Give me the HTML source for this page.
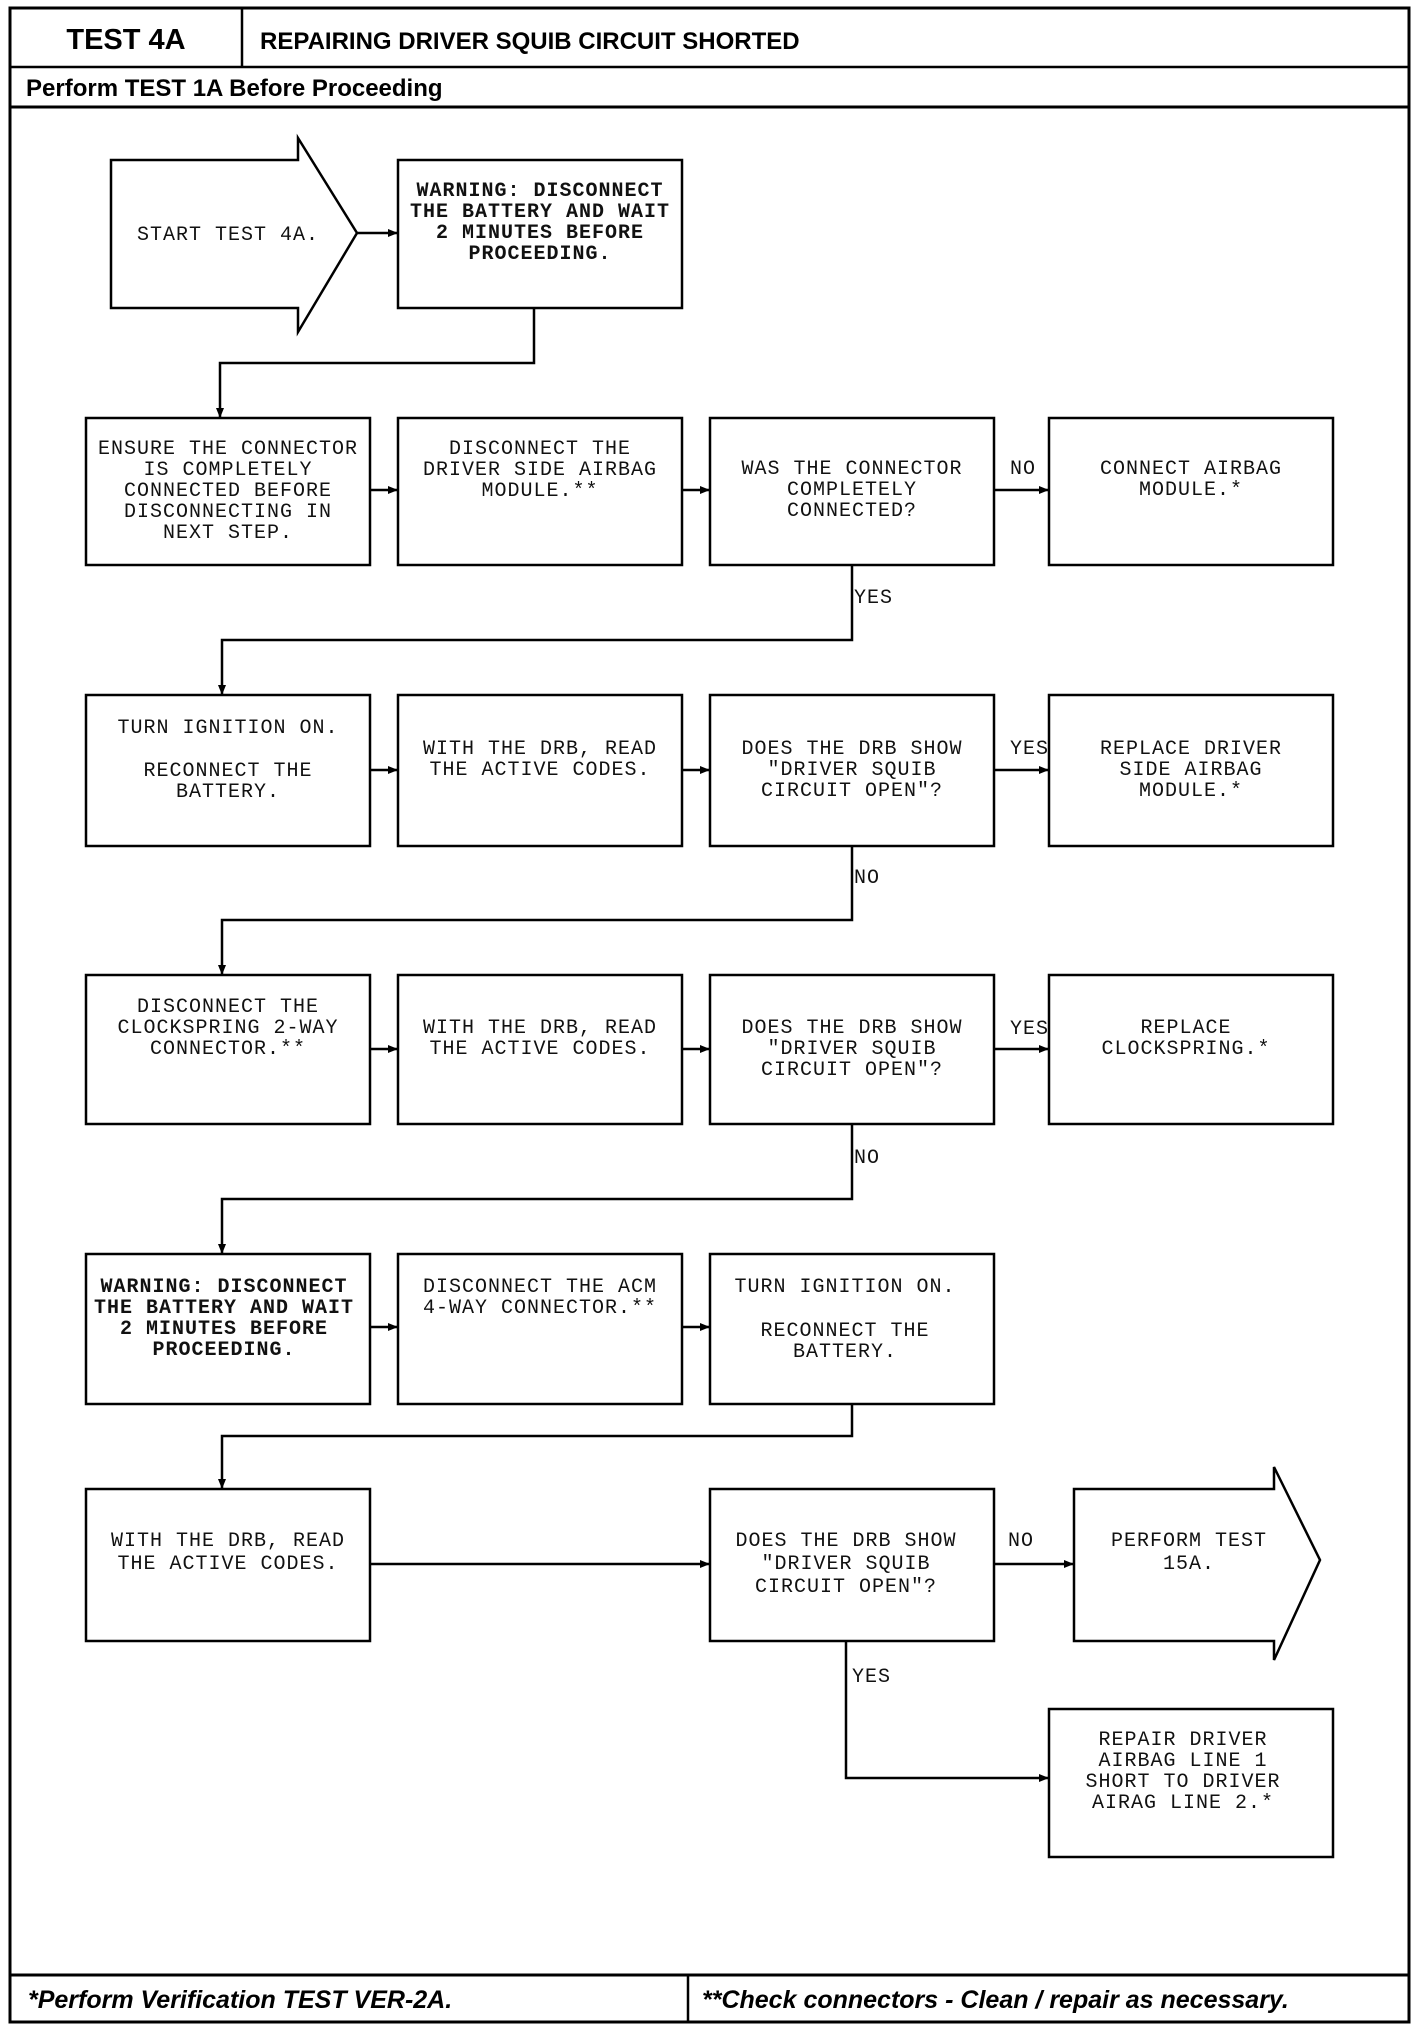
<!DOCTYPE html>
<html><head><meta charset="utf-8"><style>
html,body{margin:0;padding:0;background:#fff}
svg{display:block}
.m{font-family:"Liberation Mono",monospace;font-size:20px;letter-spacing:1px;fill:#111}
.b{font-weight:bold}
.s{font-family:"Liberation Sans",sans-serif;font-weight:bold;fill:#000}
</style></head><body>
<svg width="1424" height="2032" viewBox="0 0 1424 2032" xmlns="http://www.w3.org/2000/svg">
<defs><marker id="a" markerWidth="10" markerHeight="10" refX="9" refY="5" orient="auto" markerUnits="userSpaceOnUse"><path d="M0,1 L10,5 L0,9 z" fill="#000"/></marker></defs>
<g fill="none" stroke="#000">
<rect x="10" y="8" width="1399" height="2014" stroke-width="3"/>
<line x1="10" y1="67" x2="1409" y2="67" stroke-width="2.5"/>
<line x1="242" y1="8" x2="242" y2="67" stroke-width="2.5"/>
<line x1="10" y1="107" x2="1409" y2="107" stroke-width="3"/>
<line x1="10" y1="1975" x2="1409" y2="1975" stroke-width="3"/>
<line x1="688" y1="1975" x2="688" y2="2022" stroke-width="2.5"/>
</g>
<text x="126" y="49" class="s" font-size="29" text-anchor="middle">TEST 4A</text>
<text x="260" y="49" class="s" font-size="24">REPAIRING DRIVER SQUIB CIRCUIT SHORTED</text>
<text x="26" y="96" class="s" font-size="24">Perform TEST 1A Before Proceeding</text>
<text x="28" y="2008" class="s" font-size="25" font-style="italic">*Perform Verification TEST VER-2A.</text>
<text x="702" y="2008" class="s" font-size="25" font-style="italic">**Check connectors - Clean / repair as necessary.</text>

<g fill="#fff" stroke="#000" stroke-width="2.5">
<path d="M111,160 L298,160 L298,138 L357,233 L298,332 L298,308 L111,308 Z"/>
<rect x="398" y="160" width="284" height="148"/>
<rect x="86" y="418" width="284" height="147"/>
<rect x="398" y="418" width="284" height="147"/>
<rect x="710" y="418" width="284" height="147"/>
<rect x="1049" y="418" width="284" height="147"/>
<rect x="86" y="695" width="284" height="151"/>
<rect x="398" y="695" width="284" height="151"/>
<rect x="710" y="695" width="284" height="151"/>
<rect x="1049" y="695" width="284" height="151"/>
<rect x="86" y="975" width="284" height="149"/>
<rect x="398" y="975" width="284" height="149"/>
<rect x="710" y="975" width="284" height="149"/>
<rect x="1049" y="975" width="284" height="149"/>
<rect x="86" y="1254" width="284" height="150"/>
<rect x="398" y="1254" width="284" height="150"/>
<rect x="710" y="1254" width="284" height="150"/>
<rect x="86" y="1489" width="284" height="152"/>
<rect x="710" y="1489" width="284" height="152"/>
<path d="M1074,1489 L1274,1489 L1274,1467 L1320,1560 L1274,1660 L1274,1641 L1074,1641 Z"/>
<rect x="1049" y="1709" width="284" height="148"/>
</g>

<g fill="none" stroke="#000" stroke-width="2.5" marker-end="url(#a)">
<line x1="357" y1="233" x2="397" y2="233"/>
<polyline points="534,308 534,363 220,363 220,417"/>
<line x1="370" y1="490" x2="397" y2="490"/>
<line x1="682" y1="490" x2="709" y2="490"/>
<line x1="994" y1="490" x2="1048" y2="490"/>
<polyline points="852,565 852,640 222,640 222,694"/>
<line x1="370" y1="770" x2="397" y2="770"/>
<line x1="682" y1="770" x2="709" y2="770"/>
<line x1="994" y1="770" x2="1048" y2="770"/>
<polyline points="852,846 852,920 222,920 222,974"/>
<line x1="370" y1="1049" x2="397" y2="1049"/>
<line x1="682" y1="1049" x2="709" y2="1049"/>
<line x1="994" y1="1049" x2="1048" y2="1049"/>
<polyline points="852,1124 852,1199 222,1199 222,1253"/>
<line x1="370" y1="1327" x2="397" y2="1327"/>
<line x1="682" y1="1327" x2="709" y2="1327"/>
<polyline points="852,1404 852,1436 222,1436 222,1488"/>
<line x1="370" y1="1564" x2="709" y2="1564"/>
<line x1="994" y1="1564" x2="1073" y2="1564"/>
<polyline points="846,1641 846,1778 1048,1778"/>
</g>

<g class="m" text-anchor="middle">
<text x="228" y="240">START TEST 4A.</text>
<g class="b"><text x="540" y="196">WARNING: DISCONNECT</text><text x="540" y="217">THE BATTERY AND WAIT</text><text x="540" y="238">2 MINUTES BEFORE</text><text x="540" y="259">PROCEEDING.</text></g>

<text x="228" y="454">ENSURE THE CONNECTOR</text><text x="228" y="475">IS COMPLETELY</text><text x="228" y="496">CONNECTED BEFORE</text><text x="228" y="517">DISCONNECTING IN</text><text x="228" y="538">NEXT STEP.</text>
<text x="540" y="454">DISCONNECT THE</text><text x="540" y="475">DRIVER SIDE AIRBAG</text><text x="540" y="496">MODULE.**</text>
<text x="852" y="474">WAS THE CONNECTOR</text><text x="852" y="495">COMPLETELY</text><text x="852" y="516">CONNECTED?</text>
<text x="1191" y="474">CONNECT AIRBAG</text><text x="1191" y="495">MODULE.*</text>

<text x="228" y="733">TURN IGNITION ON.</text><text x="228" y="776">RECONNECT THE</text><text x="228" y="797">BATTERY.</text>
<text x="540" y="754">WITH THE DRB, READ</text><text x="540" y="775">THE ACTIVE CODES.</text>
<text x="852" y="754">DOES THE DRB SHOW</text><text x="852" y="775">"DRIVER SQUIB</text><text x="852" y="796">CIRCUIT OPEN"?</text>
<text x="1191" y="754">REPLACE DRIVER</text><text x="1191" y="775">SIDE AIRBAG</text><text x="1191" y="796">MODULE.*</text>

<text x="228" y="1012">DISCONNECT THE</text><text x="228" y="1033">CLOCKSPRING 2-WAY</text><text x="228" y="1054">CONNECTOR.**</text>
<text x="540" y="1033">WITH THE DRB, READ</text><text x="540" y="1054">THE ACTIVE CODES.</text>
<text x="852" y="1033">DOES THE DRB SHOW</text><text x="852" y="1054">"DRIVER SQUIB</text><text x="852" y="1075">CIRCUIT OPEN"?</text>
<text x="1186" y="1033">REPLACE</text><text x="1186" y="1054">CLOCKSPRING.*</text>

<g class="b"><text x="224" y="1292">WARNING: DISCONNECT</text><text x="224" y="1313">THE BATTERY AND WAIT</text><text x="224" y="1334">2 MINUTES BEFORE</text><text x="224" y="1355">PROCEEDING.</text></g>
<text x="540" y="1292">DISCONNECT THE ACM</text><text x="540" y="1313">4-WAY CONNECTOR.**</text>
<text x="845" y="1292">TURN IGNITION ON.</text><text x="845" y="1336">RECONNECT THE</text><text x="845" y="1357">BATTERY.</text>

<text x="228" y="1546">WITH THE DRB, READ</text><text x="228" y="1569">THE ACTIVE CODES.</text>
<text x="846" y="1546">DOES THE DRB SHOW</text><text x="846" y="1569">"DRIVER SQUIB</text><text x="846" y="1592">CIRCUIT OPEN"?</text>
<text x="1189" y="1546">PERFORM TEST</text><text x="1189" y="1569">15A.</text>

<text x="1183" y="1745">REPAIR DRIVER</text><text x="1183" y="1766">AIRBAG LINE 1</text><text x="1183" y="1787">SHORT TO DRIVER</text><text x="1183" y="1808">AIRAG LINE 2.*</text>
</g>
<g class="m" font-size="19">
<text x="1010" y="474">NO</text>
<text x="854" y="603">YES</text>
<text x="1010" y="754">YES</text>
<text x="854" y="883">NO</text>
<text x="1010" y="1034">YES</text>
<text x="854" y="1163">NO</text>
<text x="1008" y="1546">NO</text>
<text x="852" y="1682">YES</text>
</g>
</svg>
</body></html>
